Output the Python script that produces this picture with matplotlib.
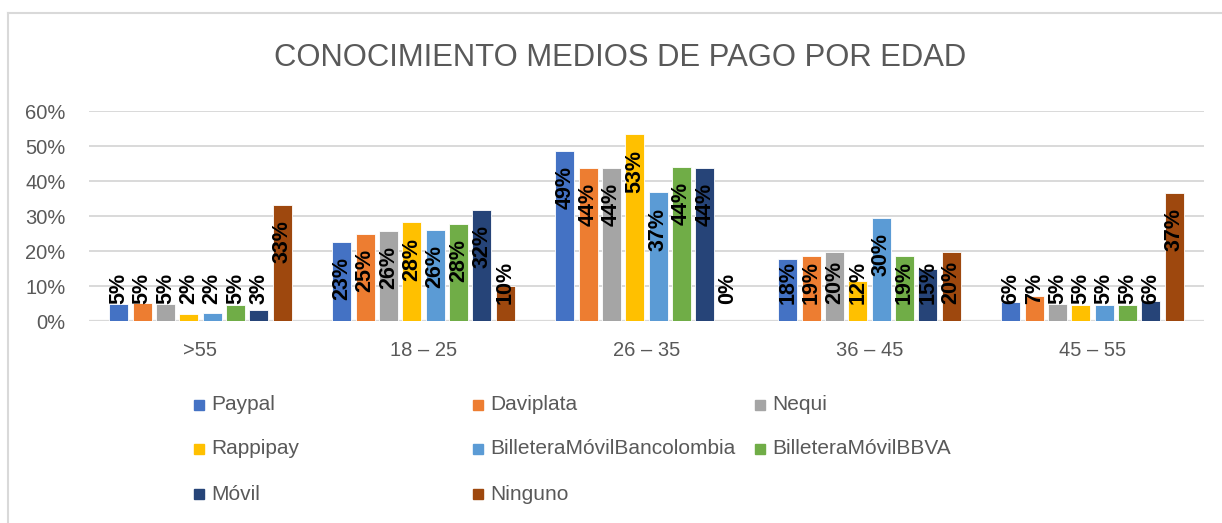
import matplotlib.pyplot as plt
from matplotlib.lines import Line2D
from matplotlib.patches import Rectangle
import numpy as np

plt.rcParams['font.family'] = ['Liberation Sans', 'DejaVu Sans']

grupos = [">55", "18 – 25", "26 – 35", "36 – 45", "45 – 55"]
series = ["Paypal", "Daviplata", "Nequi", "Rappipay",
          "BilleteraMóvilBancolombia", "BilleteraMóvilBBVA", "Móvil", "Ninguno"]
colores = ["#4472C4", "#ED7D31", "#A5A5A5", "#FFC000",
           "#5B9BD5", "#70AD47", "#264478", "#9E480E"]

# porcentaje por serie, un valor por grupo de edad
paypal = [5.0, 22.7, 48.6, 17.8, 5.6]
daviplata = [5.3, 25.0, 43.8, 18.6, 7.1]
nequi = [5.0, 25.7, 43.8, 19.9, 5.0]
rappipay = [2.0, 28.2, 53.3, 11.6, 4.6]
bancolombia = [2.4, 26.1, 36.8, 29.6, 4.6]
bbva = [4.7, 27.8, 44.1, 18.6, 4.6]
movil = [3.1, 31.7, 43.8, 15.0, 5.8]
ninguno = [33.3, 10.0, 0.0, 19.9, 36.6]
valores = [paypal, daviplata, nequi, rappipay, bancolombia, bbva, movil, ninguno]

gris = "#595959"
fig = plt.figure(figsize=(12.22, 5.23), dpi=100)
ax = fig.add_axes([89 / 1222, 1 - 321.3 / 523, 1115 / 1222, 210.3 / 523])

x = np.arange(len(grupos))
paso = 0.1045
ancho = 0.085
for i, (nombre, vals) in enumerate(zip(series, valores)):
    pos = x + (i - 3.5) * paso
    ax.bar(pos, vals, width=ancho, color=colores[i], edgecolor="white",
           linewidth=0.6, zorder=3, label=nombre)
    for px, v in zip(pos, vals):
        txt = "%d%%" % int(v + 0.5)
        if v >= 21:
            ax.annotate(txt, (px, v), xytext=(0, -11), textcoords="offset points",
                        rotation=90, ha="center", va="top", fontsize=15.5,
                        fontweight="bold", color="black", zorder=4)
        else:
            ax.annotate(txt, (px, 0), xytext=(0, 12.5), textcoords="offset points",
                        rotation=90, ha="center", va="bottom", fontsize=15.5,
                        fontweight="bold", color="black", zorder=4)

ax.set_xlim(-0.5, len(grupos) - 0.5)
ax.set_ylim(0, 60)
ax.set_yticks(range(0, 61, 10))
ax.set_yticklabels(["%d%%" % t for t in range(0, 61, 10)])
ax.set_xticks(x)
ax.set_xticklabels(grupos)
ax.grid(axis="y", color="#D9D9D9", linewidth=1.4, zorder=0)
ax.tick_params(length=0, labelsize=14.5, labelcolor=gris)
ax.tick_params(axis="y", pad=17)
ax.tick_params(axis="x", pad=14)
for s in ax.spines.values():
    s.set_visible(False)
ax.axhline(0, color="#D9D9D9", linewidth=1.6, zorder=2)

fig.text(620 / 1222, 1 - 58 / 523, "CONOCIMIENTO MEDIOS DE PAGO POR EDAD",
         ha="center", va="center", fontsize=22.3, color=gris)

# leyenda en tres columnas, orden por filas como en Excel
col_x = [194, 473, 755]
fila_y = [405, 449, 494]
for i, (nombre, c) in enumerate(zip(series, colores)):
    cx = col_x[i % 3]
    cy = fila_y[i // 3]
    fig.patches.append(Rectangle((cx / 1222, 1 - (cy + 5) / 523), 10 / 1222, 10 / 523,
                                 transform=fig.transFigure, color=c, figure=fig))
    fig.text((cx + 17) / 1222, 1 - cy / 523, nombre, ha="left", va="center",
             fontsize=15, color=gris)

# borde del área del gráfico (recortado a la izquierda y arriba)
fig.add_artist(Line2D([8 / 1222, 8 / 1222], [0, 1 - 13 / 523], color="#D9D9D9",
                      linewidth=1.5, transform=fig.transFigure))
fig.add_artist(Line2D([8 / 1222, 1], [1 - 13 / 523, 1 - 13 / 523], color="#D9D9D9",
                      linewidth=1.5, transform=fig.transFigure))

fig.savefig("out.png", dpi=100)
